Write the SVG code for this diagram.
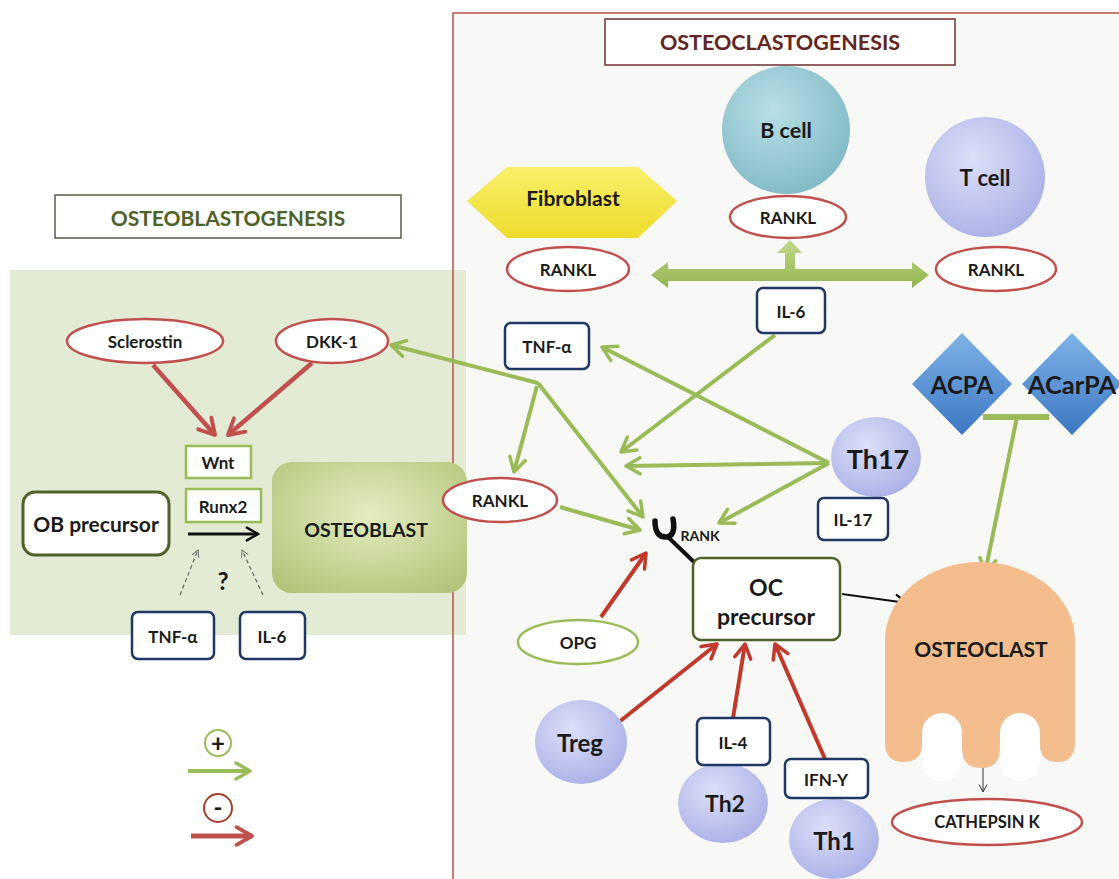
<svg xmlns="http://www.w3.org/2000/svg" width="1119" height="879" viewBox="0 0 1119 879">
<defs>
<style>
text{font-family:Lato,"Liberation Sans",sans-serif;font-weight:bold;fill:#1a1a1a;text-anchor:middle;dominant-baseline:central}
.rk{fill:#fff;stroke:#c0504d;stroke-width:2.5}
.nb{fill:#fff;stroke:#1f3864;stroke-width:2.5}
.gb{fill:#fff;stroke:#9bbb59;stroke-width:2.5}
.ga{fill:none;stroke:#9bbb59;stroke-width:4;marker-end:url(#mg)}
.ra{fill:none;stroke:#c0392b;stroke-width:4;marker-end:url(#mr)}
.rl{fill:none;stroke:#c0504d;stroke-width:4.5;marker-end:url(#ml)}
.th{fill:url(#gt)}
.s14{font-size:17px}
</style>
<marker id="mg" viewBox="0 0 20 20" refX="17" refY="10" markerWidth="20" markerHeight="20" markerUnits="userSpaceOnUse" orient="auto"><path d="M3,2 L17,10 L3,18" fill="none" stroke="#9bbb59" stroke-width="3.5" stroke-linecap="round" stroke-linejoin="round"/></marker>
<marker id="mr" viewBox="0 0 20 20" refX="17" refY="10" markerWidth="20" markerHeight="20" markerUnits="userSpaceOnUse" orient="auto"><path d="M3,2 L17,10 L3,18" fill="none" stroke="#c0392b" stroke-width="3.5" stroke-linecap="round" stroke-linejoin="round"/></marker>
<marker id="ml" viewBox="0 0 20 20" refX="17" refY="10" markerWidth="22" markerHeight="22" markerUnits="userSpaceOnUse" orient="auto"><path d="M3,2 L17,10 L3,18" fill="none" stroke="#c0504d" stroke-width="3.5" stroke-linecap="round" stroke-linejoin="round"/></marker>
<marker id="mk" viewBox="0 0 20 20" refX="17" refY="10" markerWidth="16" markerHeight="16" markerUnits="userSpaceOnUse" orient="auto"><path d="M3,2 L17,10 L3,18" fill="none" stroke="#111" stroke-width="3" stroke-linecap="round"/></marker>
<marker id="mt" viewBox="0 0 20 20" refX="18" refY="10" markerWidth="10" markerHeight="10" markerUnits="userSpaceOnUse" orient="auto"><path d="M3,2 L18,10 L3,18" fill="none" stroke="#333" stroke-width="2"/></marker>
<marker id="md" viewBox="0 0 20 20" refX="18" refY="10" markerWidth="9" markerHeight="9" markerUnits="userSpaceOnUse" orient="auto"><path d="M3,2 L18,10 L3,18" fill="none" stroke="#666" stroke-width="2"/></marker>
<radialGradient id="gb" cx="0.4" cy="0.35" r="0.7"><stop offset="0" stop-color="#b8dfe5"/><stop offset="1" stop-color="#80b9c6"/></radialGradient>
<radialGradient id="gt" cx="0.4" cy="0.35" r="0.7"><stop offset="0" stop-color="#dcdff8"/><stop offset="1" stop-color="#aab0e6"/></radialGradient>
<radialGradient id="go" cx="0.5" cy="0.4" r="0.7"><stop offset="0" stop-color="#e4ecc0"/><stop offset="1" stop-color="#b3c47a"/></radialGradient>
<linearGradient id="gd" x1="0" y1="0" x2="0" y2="1"><stop offset="0" stop-color="#7fb2e6"/><stop offset="1" stop-color="#3c78c3"/></linearGradient>
<linearGradient id="gy" x1="0" y1="0" x2="0" y2="1"><stop offset="0" stop-color="#f9ef6a"/><stop offset="1" stop-color="#eedc2c"/></linearGradient>
<linearGradient id="gg" x1="0" y1="0" x2="0" y2="1"><stop offset="0" stop-color="#c3d98a"/><stop offset="1" stop-color="#93b451"/></linearGradient>
</defs>

<g id="panels">
<rect x="453" y="13" width="700" height="900" fill="#f8f8f6"/>
<rect x="10" y="270" width="456" height="365" fill="#e4ebd5"/>
<rect x="453" y="13" width="700" height="900" fill="none" stroke="#c0504d" stroke-width="1.5"/>
</g>

<g id="title-ob"><rect x="55" y="195" width="346" height="43" fill="#fff" stroke="#5a5a4a" stroke-width="1.5"/><text x="228" y="217" style="font-size:21px;fill:#4f6228">OSTEOBLASTOGENESIS</text></g>
<g id="title-oc"><rect x="605" y="19" width="350" height="46" fill="#fff" stroke="#6b3030" stroke-width="1.5"/><text x="780" y="42" style="font-size:21.5px;fill:#632523">OSTEOCLASTOGENESIS</text></g>

<g id="connectors">
<path class="ga" d="M538,383 L391,345"/>
<path class="ga" d="M537,386 L514,472"/>
<path class="ga" d="M538,383 L643,517"/>
<path class="ga" d="M775,335 L621,452"/>
<path class="ga" d="M829,463 L602,347"/>
<path class="ga" d="M829,463 L626,466"/>
<path class="ga" d="M829,463 L719,523"/>
<path class="ga" d="M560,507 L640,530"/>
<path d="M983,417 L1049,417" stroke="#9bbb59" stroke-width="6"/>
<path class="ga" d="M1017,417 L985,573"/>
<path class="rl" d="M153,365 L215,435"/>
<path class="rl" d="M312,363 L228,435"/>
<path class="ra" d="M601,617 L646,553"/>
<path class="ra" d="M619,722 L717,644"/>
<path class="ra" d="M733,718 L745,644"/>
<path class="ra" d="M825,759 L775,644"/>
<path d="M188,534 L258,534" stroke="#111" stroke-width="3" marker-end="url(#mk)"/>
<path d="M842,594 L907,603" stroke="#111" stroke-width="2" marker-end="url(#mk)"/>
<path d="M983,765 L983,792" stroke="#333" stroke-width="1" marker-end="url(#mt)"/>
<path d="M180,595 L198,550" stroke="#666" stroke-width="1.2" stroke-dasharray="4,3" fill="none" marker-end="url(#md)"/>
<path d="M263,595 L242,550" stroke="#666" stroke-width="1.2" stroke-dasharray="4,3" fill="none" marker-end="url(#md)"/>
<path d="M651,275 L668,262 L668,269 L785,269 L785,253 L777,253 L790,240 L802,253 L795,253 L795,269 L912,269 L912,262 L929,275 L912,288 L912,281 L668,281 L668,288 Z" fill="url(#gg)"/>
<path d="M655,521 Q655,538 667,537 Q676,535 673,519" fill="none" stroke="#111" stroke-width="5.5" stroke-linecap="round"/>
<path d="M668,537 L694,562" stroke="#111" stroke-width="4"/>
</g>

<g id="sclerostin"><ellipse class="rk" cx="145" cy="341" rx="78" ry="22"/><text class="s14" x="145" y="341">Sclerostin</text></g>
<g id="dkk1"><ellipse class="rk" cx="332" cy="341" rx="56" ry="22"/><text class="s14" x="332" y="341">DKK-1</text></g>
<g id="wnt"><rect class="gb" x="186" y="446" width="65" height="32"/><text class="s14" x="218" y="462">Wnt</text></g>
<g id="runx2"><rect class="gb" x="186" y="489" width="75" height="33"/><text class="s14" x="223" y="506">Runx2</text></g>
<g id="ob-precursor"><rect x="23" y="492" width="146" height="63" rx="12" fill="#fff" stroke="#4f6228" stroke-width="3"/><text x="96" y="523" style="font-size:21px">OB precursor</text></g>
<g id="osteoblast"><rect x="272" y="462" width="195" height="131" rx="20" fill="url(#go)"/><text x="366" y="529" style="font-size:19.5px">OSTEOBLAST</text></g>
<g id="question"><text x="223" y="580" style="font-size:24px">?</text></g>
<g id="tnfa-left"><rect class="nb" x="132" y="612" width="82" height="47" rx="6"/><text class="s14" x="173" y="636">TNF-α</text></g>
<g id="il6-left"><rect class="nb" x="240" y="612" width="65" height="47" rx="6"/><text class="s14" x="272" y="636">IL-6</text></g>

<g id="legend">
<circle cx="218" cy="743" r="13" fill="#fff" stroke="#9bbb59" stroke-width="2"/><text x="218" y="742" style="font-size:24px">+</text>
<path d="M188,771 L250,771" stroke="#9bbb59" stroke-width="4" marker-end="url(#mg)"/>
<circle cx="218" cy="808" r="14" fill="#fff" stroke="#a0422a" stroke-width="2"/><text x="218" y="806" style="font-size:24px">-</text>
<path d="M191,836 L252,836" stroke="#c0504d" stroke-width="5" marker-end="url(#ml)"/>
</g>

<g id="fibroblast"><polygon points="467,201 507,167 638,167 677,201 638,238 507,238" fill="url(#gy)"/><text x="573" y="197" style="font-size:21px">Fibroblast</text></g>
<g id="rankl-fib"><ellipse class="rk" cx="568" cy="269" rx="61" ry="22"/><text class="s14" x="568" y="269">RANKL</text></g>
<g id="bcell"><circle cx="786" cy="130" r="64" fill="url(#gb)"/><text x="786" y="130" style="font-size:21.5px">B cell</text></g>
<g id="rankl-b"><ellipse class="rk" cx="788" cy="217" rx="58" ry="21"/><text class="s14" x="788" y="217">RANKL</text></g>
<g id="tcell"><circle cx="985" cy="177" r="60" class="th"/><text x="985" y="177" style="font-size:22px">T cell</text></g>
<g id="rankl-t"><ellipse class="rk" cx="996" cy="269" rx="60" ry="22"/><text class="s14" x="996" y="269">RANKL</text></g>
<g id="il6"><rect class="nb" x="757" y="288" width="68" height="45" rx="6"/><text class="s14" x="791" y="311">IL-6</text></g>
<g id="tnfa"><rect class="nb" x="505" y="323" width="84" height="46" rx="6"/><text class="s14" x="547" y="346">TNF-α</text></g>
<g id="acpa"><polygon points="962,333 1012,384 962,435 912,384" fill="url(#gd)"/><text x="962" y="384" style="font-size:24px">ACPA</text></g>
<g id="acarpa"><polygon points="1072,333 1122,384 1072,435 1022,384" fill="url(#gd)"/><text x="1072" y="384" style="font-size:25.5px">ACarPA</text></g>
<g id="th17"><ellipse cx="876" cy="457" rx="45" ry="40" class="th"/><text x="878" y="458" style="font-size:27px">Th17</text></g>
<g id="il17"><rect class="nb" x="818" y="498" width="70" height="42" rx="6"/><text class="s14" x="853" y="519">IL-17</text></g>
<g id="rankl-oc"><ellipse class="rk" cx="500" cy="500" rx="57" ry="22"/><text class="s14" x="500" y="500">RANKL</text></g>
<g id="rank"><text x="700" y="535" style="font-size:14px">RANK</text></g>
<g id="oc-precursor"><rect x="693" y="558" width="147" height="82" rx="8" fill="#fff" stroke="#4f6228" stroke-width="2.5"/><text x="766" y="587" style="font-size:23px">OC</text><text x="766" y="616" style="font-size:23px">precursor</text></g>
<g id="osteoclast">
<rect x="922" y="713" width="40" height="68" rx="20" fill="#fff"/>
<rect x="1000" y="713" width="40" height="68" rx="20" fill="#fff"/>
<path d="M885,640 A95,78 0 0 1 1075,640 L1075,742 Q1075,762 1058,762 Q1040,762 1040,745 L1040,733 A20,20 0 0 0 1000,733 L1000,748 Q1000,768 981,768 Q962,768 962,748 L962,733 A20,20 0 0 0 922,733 L922,745 Q922,762 903,762 Q885,762 885,742 Z" fill="#f4bd8e"/>
<text x="981" y="648" style="font-size:21px">OSTEOCLAST</text>
</g>
<g id="cathepsin"><ellipse class="rk" cx="987" cy="822" rx="95" ry="23"/><text x="987" y="822" style="font-size:16.5px">CATHEPSIN K</text></g>
<g id="opg"><ellipse class="gb" cx="578" cy="642" rx="60" ry="22"/><text class="s14" x="578" y="642">OPG</text></g>
<g id="treg"><ellipse cx="581" cy="742" rx="46" ry="42" class="th"/><text x="580" y="742" style="font-size:24px">Treg</text></g>
<g id="th2"><ellipse cx="723" cy="803" rx="45" ry="40" class="th"/><text x="725" y="803" style="font-size:23px">Th2</text></g>
<g id="il4"><rect class="nb" x="697" y="718" width="73" height="47" rx="6"/><text class="s14" x="733" y="742">IL-4</text></g>
<g id="th1"><ellipse cx="834" cy="839" rx="45" ry="40" class="th"/><text x="834" y="840" style="font-size:24px">Th1</text></g>
<g id="ifny"><rect class="nb" x="785" y="759" width="83" height="39" rx="6"/><text class="s14" x="826" y="779">IFN-Y</text></g>
</svg>
